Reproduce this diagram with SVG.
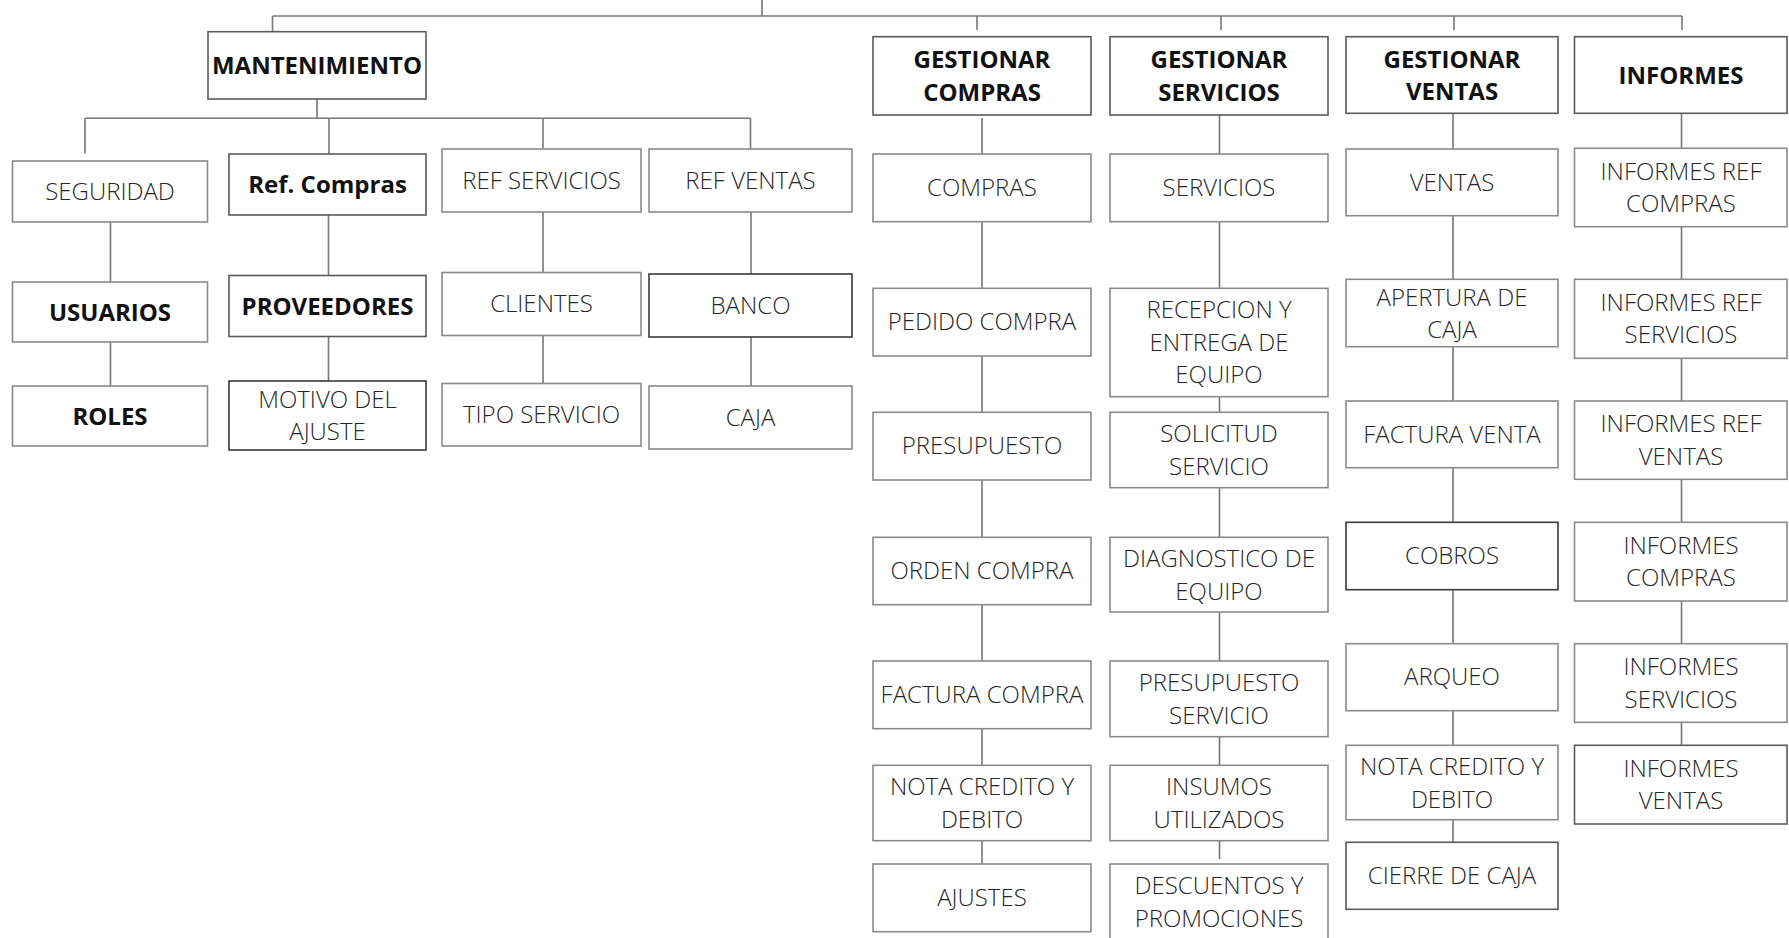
<svg xmlns="http://www.w3.org/2000/svg" width="1789" height="938" viewBox="0 0 1789 938">
  <style>
    .box { fill: #ffffff; stroke: #8a8a8a; stroke-width: 1.6; }
    .dark { stroke: #3a3a3a; }
    .mid { stroke: #5a5a5a; }
    .t { font-family: "Open Sans", "Liberation Sans", sans-serif; font-size: 24px; font-weight: 300; fill: #262626; text-anchor: middle; }
    .b { font-weight: 700; fill: #111111; }
    .link { stroke: #777777; stroke-width: 1.6; fill: none; }
  </style>
  <rect width="1789" height="938" fill="#ffffff"/>

  <!-- connectors -->
  <g id="connectors" class="link">
    <path d="M762 0V16M272.5 16H1682M272.5 16V31.7M977 16V30M1221 16V30M1454 16V30M1682 16V30"/>
    <!-- MANTENIMIENTO branch -->
    <path d="M317 99V118.3M85 118.3H750.5M85 118.3V153.5M329 118.3V154M543 118.3V149M750.5 118.3V149"/>
    <path d="M110.5 222V282M110.5 342V386"/>
    <path d="M328.5 215V275.5M328.5 336.5V381"/>
    <path d="M543 212V272.5M543 335.5V383.5"/>
    <path d="M751 212V274M751 337V386"/>
    <!-- GESTIONAR COMPRAS -->
    <path d="M982 118V154M982 221.7V288.3M982 356V412.3M982 480V537.3M982 604.7V661M982 728.7V765.3M982 840.7V864"/>
    <!-- GESTIONAR SERVICIOS -->
    <path d="M1219.5 115V154M1219.5 221.7V288.3M1219.5 396.7V412.3M1219.5 487.7V537.3M1219.5 612V661M1219.5 736.7V765.3M1219.5 840.7V859"/>
    <!-- GESTIONAR VENTAS -->
    <path d="M1453 113.3V149M1453 215.7V279.3M1453 346.7V401M1453 467.7V522.3M1453 589.7V643.7M1453 710.7V745.3M1453 819.7V842.3"/>
    <!-- INFORMES -->
    <path d="M1681.5 113.3V148.3M1681.5 226.7V279.3M1681.5 358.3V401M1681.5 479.3V522.3M1681.5 601V643.7M1681.5 722.3V745.3"/>
  </g>

  <!-- MANTENIMIENTO -->
  <g id="mantenimiento"><rect class="box mid" x="208" y="31.7" width="218" height="67.3"/><text class="t b" x="317" y="74">MANTENIMIENTO</text></g>
  <g id="seguridad"><rect class="box" x="12.5" y="161" width="195" height="61"/><text class="t" x="110" y="200">SEGURIDAD</text></g>
  <g id="usuarios"><rect class="box" x="12.5" y="282" width="195" height="60"/><text class="t b" x="110" y="320.5">USUARIOS</text></g>
  <g id="roles"><rect class="box" x="12.5" y="386" width="195" height="60"/><text class="t b" x="110" y="424.5">ROLES</text></g>
  <g id="ref-compras"><rect class="box mid" x="229" y="154" width="197" height="61"/><text class="t b" x="327.5" y="193">Ref. Compras</text></g>
  <g id="proveedores"><rect class="box mid" x="229" y="275.5" width="197" height="61"/><text class="t b" x="327.5" y="314.5">PROVEEDORES</text></g>
  <g id="motivo-ajuste"><rect class="box dark" x="229" y="381" width="197" height="69"/><text class="t" x="327.5" y="407.5">MOTIVO DEL</text><text class="t" x="327.5" y="440">AJUSTE</text></g>
  <g id="ref-servicios"><rect class="box" x="442" y="149" width="199" height="63"/><text class="t" x="541.5" y="188.5">REF SERVICIOS</text></g>
  <g id="clientes"><rect class="box" x="442" y="272.5" width="199" height="63"/><text class="t" x="541.5" y="312">CLIENTES</text></g>
  <g id="tipo-servicio"><rect class="box" x="442" y="383.5" width="199" height="62.5"/><text class="t" x="541.5" y="423">TIPO SERVICIO</text></g>
  <g id="ref-ventas"><rect class="box" x="649" y="149" width="203" height="63"/><text class="t" x="750.5" y="188.5">REF VENTAS</text></g>
  <g id="banco"><rect class="box dark" x="649" y="274" width="203" height="63"/><text class="t" x="750.5" y="313.5">BANCO</text></g>
  <g id="caja"><rect class="box" x="649" y="386" width="203" height="63"/><text class="t" x="750.5" y="425.5">CAJA</text></g>

  <!-- GESTIONAR COMPRAS -->
  <g id="gestionar-compras"><rect class="box mid" x="873" y="36.7" width="218" height="78.3"/><text class="t b" x="982" y="68">GESTIONAR</text><text class="t b" x="982" y="100.5">COMPRAS</text></g>
  <g id="compras"><rect class="box" x="873" y="154" width="218" height="67.7"/><text class="t" x="982" y="196">COMPRAS</text></g>
  <g id="pedido-compra"><rect class="box" x="873" y="288.3" width="218" height="67.7"/><text class="t" x="982" y="330">PEDIDO COMPRA</text></g>
  <g id="presupuesto"><rect class="box" x="873" y="412.3" width="218" height="67.7"/><text class="t" x="982" y="454">PRESUPUESTO</text></g>
  <g id="orden-compra"><rect class="box" x="873" y="537.3" width="218" height="67.4"/><text class="t" x="982" y="579">ORDEN COMPRA</text></g>
  <g id="factura-compra"><rect class="box" x="873" y="661" width="218" height="67.7"/><text class="t" x="982" y="703">FACTURA COMPRA</text></g>
  <g id="nota-compra"><rect class="box" x="873" y="765.3" width="218" height="75.4"/><text class="t" x="982" y="795">NOTA CREDITO Y</text><text class="t" x="982" y="827.5">DEBITO</text></g>
  <g id="ajustes"><rect class="box" x="873" y="864" width="218" height="67.7"/><text class="t" x="982" y="906">AJUSTES</text></g>

  <!-- GESTIONAR SERVICIOS -->
  <g id="gestionar-servicios"><rect class="box mid" x="1110" y="36.7" width="218" height="78.3"/><text class="t b" x="1219" y="68">GESTIONAR</text><text class="t b" x="1219" y="100.5">SERVICIOS</text></g>
  <g id="servicios"><rect class="box" x="1110" y="154" width="218" height="67.7"/><text class="t" x="1219" y="196">SERVICIOS</text></g>
  <g id="recepcion"><rect class="box" x="1110" y="288.3" width="218" height="108.4"/><text class="t" x="1219" y="318">RECEPCION Y</text><text class="t" x="1219" y="350.5">ENTREGA DE</text><text class="t" x="1219" y="383">EQUIPO</text></g>
  <g id="solicitud"><rect class="box" x="1110" y="412.3" width="218" height="75.4"/><text class="t" x="1219" y="442">SOLICITUD</text><text class="t" x="1219" y="474.5">SERVICIO</text></g>
  <g id="diagnostico"><rect class="box" x="1110" y="537.3" width="218" height="74.7"/><text class="t" x="1219" y="567">DIAGNOSTICO DE</text><text class="t" x="1219" y="599.5">EQUIPO</text></g>
  <g id="presupuesto-servicio"><rect class="box" x="1110" y="661" width="218" height="75.7"/><text class="t" x="1219" y="691">PRESUPUESTO</text><text class="t" x="1219" y="723.5">SERVICIO</text></g>
  <g id="insumos"><rect class="box" x="1110" y="765.3" width="218" height="75.4"/><text class="t" x="1219" y="795">INSUMOS</text><text class="t" x="1219" y="827.5">UTILIZADOS</text></g>
  <g id="descuentos"><rect class="box" x="1110" y="864" width="218" height="82"/><text class="t" x="1219" y="894">DESCUENTOS Y</text><text class="t" x="1219" y="926.5">PROMOCIONES</text></g>

  <!-- GESTIONAR VENTAS -->
  <g id="gestionar-ventas"><rect class="box mid" x="1346" y="36.7" width="212" height="76.6"/><text class="t b" x="1452" y="67.5">GESTIONAR</text><text class="t b" x="1452" y="100">VENTAS</text></g>
  <g id="ventas"><rect class="box" x="1346" y="149" width="212" height="66.7"/><text class="t" x="1452" y="190.5">VENTAS</text></g>
  <g id="apertura"><rect class="box" x="1346" y="279.3" width="212" height="67.4"/><text class="t" x="1452" y="305.5">APERTURA DE</text><text class="t" x="1452" y="338">CAJA</text></g>
  <g id="factura-venta"><rect class="box" x="1346" y="401" width="212" height="66.7"/><text class="t" x="1452" y="442.5">FACTURA VENTA</text></g>
  <g id="cobros"><rect class="box dark" x="1346" y="522.3" width="212" height="67.4"/><text class="t" x="1452" y="564">COBROS</text></g>
  <g id="arqueo"><rect class="box" x="1346" y="643.7" width="212" height="67"/><text class="t" x="1452" y="685">ARQUEO</text></g>
  <g id="nota-venta"><rect class="box" x="1346" y="745.3" width="212" height="74.4"/><text class="t" x="1452" y="775">NOTA CREDITO Y</text><text class="t" x="1452" y="807.5">DEBITO</text></g>
  <g id="cierre-caja"><rect class="box mid" x="1346" y="842.3" width="212" height="67"/><text class="t" x="1452" y="884">CIERRE DE CAJA</text></g>

  <!-- INFORMES -->
  <g id="informes"><rect class="box mid" x="1574.5" y="36.7" width="212.5" height="76.6"/><text class="t b" x="1681" y="83.5">INFORMES</text></g>
  <g id="inf-ref-compras"><rect class="box" x="1574.5" y="148.3" width="212.5" height="78.4"/><text class="t" x="1681" y="179.5">INFORMES REF</text><text class="t" x="1681" y="212">COMPRAS</text></g>
  <g id="inf-ref-servicios"><rect class="box" x="1574.5" y="279.3" width="212.5" height="79"/><text class="t" x="1681" y="310.5">INFORMES REF</text><text class="t" x="1681" y="343">SERVICIOS</text></g>
  <g id="inf-ref-ventas"><rect class="box" x="1574.5" y="401" width="212.5" height="78.3"/><text class="t" x="1681" y="432">INFORMES REF</text><text class="t" x="1681" y="464.5">VENTAS</text></g>
  <g id="inf-compras"><rect class="box" x="1574.5" y="522.3" width="212.5" height="78.7"/><text class="t" x="1681" y="553.5">INFORMES</text><text class="t" x="1681" y="586">COMPRAS</text></g>
  <g id="inf-servicios"><rect class="box" x="1574.5" y="643.7" width="212.5" height="78.6"/><text class="t" x="1681" y="675">INFORMES</text><text class="t" x="1681" y="707.5">SERVICIOS</text></g>
  <g id="inf-ventas"><rect class="box mid" x="1574.5" y="745.3" width="212.5" height="78.7"/><text class="t" x="1681" y="776.5">INFORMES</text><text class="t" x="1681" y="809">VENTAS</text></g>
</svg>
